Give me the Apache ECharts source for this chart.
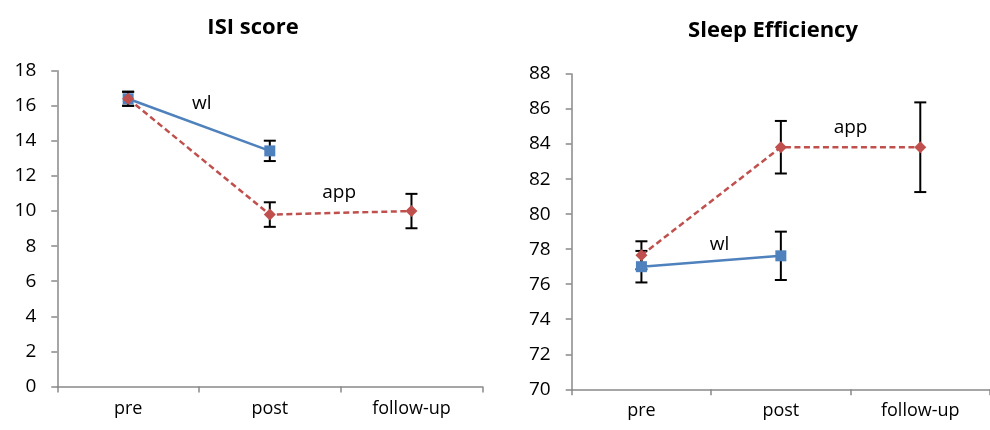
<!DOCTYPE html>
<html><head><meta charset="utf-8">
<script src="https://cdn.jsdelivr.net/npm/echarts@6/dist/echarts.min.js"></script>
<style>html,body{margin:0;padding:0;background:#fff}#c{width:990px;height:430px}</style>
</head><body><div id="c"></div>
<script>
const categories = ['pre', 'post', 'follow-up'];
// ISI score
const isiWl = [16.4, 13.43, null];
const isiWlErr = [0.4, 0.58, null];
const isiApp = [16.4, 9.8, 10.0];
const isiAppErr = [0.4, 0.7, 0.98];
// Sleep Efficiency
const seWl = [77.0, 77.62, null];
const seWlErr = [0.9, 1.38, null];
const seApp = [77.65, 83.82, 83.82];
const seAppErr = [0.8, 1.5, 2.56];
const isiTicks = {min: 0, max: 18, interval: 2};
const seTicks = {min: 70, max: 88, interval: 2};
// annotation labels: [text, category position (0 = pre), value]
const isiLabels = [['wl', 0.52, 16.1], ['app', 1.49, 11.07]];
const seLabels = [['wl', 0.56, 78.25], ['app', 1.5, 84.93]];

const FONT = 'Open Sans';
const blue = '#4F81BD', red = '#C0504D', axisGray = '#898989';

function errData(vals, errs) {
  const out = [];
  vals.forEach((v, i) => { if (v != null) out.push([i, v - errs[i], v + errs[i]]); });
  return out;
}
function errSeries(idx, vals, errs, z) {
  return {
    type: 'custom', xAxisIndex: idx, yAxisIndex: idx, z: z,
    data: errData(vals, errs),
    renderItem: function (params, api) {
      const lo = api.coord([api.value(0), api.value(1)]);
      const hi = api.coord([api.value(0), api.value(2)]);
      const w = 6;
      const st = {stroke: '#000', lineWidth: 2};
      return {type: 'group', children: [
        {type: 'line', shape: {x1: lo[0], y1: lo[1], x2: hi[0], y2: hi[1]}, style: st},
        {type: 'line', shape: {x1: lo[0] - w, y1: lo[1], x2: lo[0] + w, y2: lo[1]}, style: st},
        {type: 'line', shape: {x1: hi[0] - w, y1: hi[1], x2: hi[0] + w, y2: hi[1]}, style: st}
      ]};
    }
  };
}
function textSeries(idx, labels) {
  return {
    type: 'custom', xAxisIndex: idx, yAxisIndex: idx, z: 20,
    data: labels.map(l => [0, l[2], l[1]]),
    renderItem: function (params, api) {
      const p = api.coord([0, api.value(1)]);
      const bw = api.size([1, 0])[0];
      return {type: 'text', x: p[0] + api.value(2) * bw, y: p[1], style: {
        text: labels[params.dataIndex][0], fill: '#000', font: '19px "' + FONT + '"',
        align: 'center', verticalAlign: 'middle'}};
    }
  };
}
function xAxis(idx) {
  return {
    type: 'category', gridIndex: idx, data: categories, boundaryGap: true,
    axisLine: {lineStyle: {color: axisGray, width: 1.5}},
    axisTick: {show: true, length: 6, lineStyle: {color: axisGray, width: 1.5}},
    axisLabel: {color: '#000', fontSize: 18, fontFamily: FONT, margin: 13},
    splitLine: {show: false}
  };
}
function yAxis(idx, t) {
  return {
    type: 'value', gridIndex: idx, min: t.min, max: t.max, interval: t.interval,
    axisLine: {show: true, lineStyle: {color: axisGray, width: 1.5}},
    axisTick: {show: true, length: 6, lineStyle: {color: axisGray, width: 1.5}},
    axisLabel: {color: '#000', fontSize: 19, fontFamily: FONT, margin: 21},
    splitLine: {show: false}
  };
}
function lineSeries(idx, data, color, dashed, symbol, size) {
  return {
    type: 'line', xAxisIndex: idx, yAxisIndex: idx, data: data, z: 10,
    symbol: symbol, symbolSize: size, showSymbol: true,
    itemStyle: {color: color, borderWidth: 0},
    lineStyle: {color: color, width: 2.5, type: dashed ? [6, 3.5] : 'solid'},
    emphasis: {disabled: true}, animation: false
  };
}

const chart = echarts.init(document.getElementById('c'), null, {renderer: 'canvas'});
chart.setOption({
  animation: false,
  backgroundColor: '#fff',
  title: [
    {text: 'ISI score', left: 248, top: 12, textAlign: 'center',
     textStyle: {fontFamily: FONT, fontWeight: 'bold', fontSize: 22, color: '#000'}},
    {text: 'Sleep Efficiency', left: 768, top: 15, textAlign: 'center',
     textStyle: {fontFamily: FONT, fontWeight: 'bold', fontSize: 22, color: '#000'}}
  ],
  grid: [
    {left: 57.3, top: 70.7, width: 425, height: 315.8},
    {left: 571.7, top: 74, width: 427.5, height: 315.3}
  ],
  xAxis: [xAxis(0), xAxis(1)],
  yAxis: [yAxis(0, isiTicks), yAxis(1, seTicks)],
  series: [
    errSeries(0, isiWl, isiWlErr, 5),
    errSeries(0, isiApp, isiAppErr, 5),
    lineSeries(0, isiWl, blue, false, 'rect', 11),
    lineSeries(0, isiApp, red, true, 'diamond', 12),
    textSeries(0, isiLabels),
    errSeries(1, seWl, seWlErr, 5),
    errSeries(1, seApp, seAppErr, 5),
    lineSeries(1, seWl, blue, false, 'rect', 11),
    lineSeries(1, seApp, red, true, 'diamond', 12),
    textSeries(1, seLabels)
  ]
});
</script></body></html>
